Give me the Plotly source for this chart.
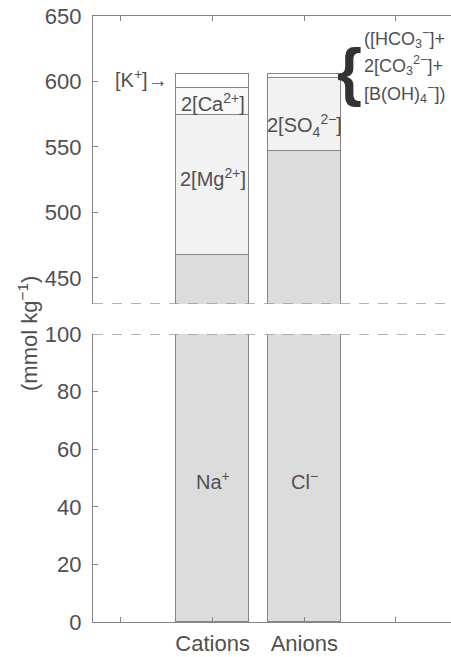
import plotly.graph_objects as go

# ---------------- data ----------------
categories = ["Cations", "Anions"]
category_pos = [2, 3]
cation_names = ["Na<sup>+</sup>", "2[Mg<sup>2+</sup>]", "2[Ca<sup>2+</sup>]", "[K<sup>+</sup>]"]
cation_values = [467.5, 107.0, 20.8, 10.2]
anion_names = ["Cl<sup>−</sup>", "2[SO<sub>4</sub><sup>2−</sup>]", "carb+borate"]
anion_values = [547.0, 56.0, 2.4]
lower_ticks = [0, 20, 40, 60, 80, 100]
upper_ticks = [450, 500, 550, 600, 650]
lower_range = [0, 100]
upper_range = [430, 650]
x_ticks = [1, 2, 3, 4]
x_ticktext = ["", "Cations", "Anions", ""]

# ---------------- styles ----------------
W, H = 451, 657
FONT = "Liberation Sans, Arial, sans-serif"
TXT = "#505050"
LINE = "#858585"
cation_colors = ["#dcdcdc", "#f2f2f2", "#f8f8f8", "#ffffff"]
anion_colors = ["#dcdcdc", "#f2f2f2", "#fbfbfb"]


def fx(p):
    return p / W


def fy(p):
    return 1 - p / H


fig = go.Figure()
for xa, ya in (("x", "y"), ("x2", "y2")):
    for name, val, col in zip(cation_names, cation_values, cation_colors):
        fig.add_trace(go.Bar(x=[category_pos[0]], y=[val], name=name, xaxis=xa, yaxis=ya,
                             width=0.8, marker=dict(color=col, line=dict(color=LINE, width=1.4)),
                             showlegend=False, hoverinfo="skip"))
    for name, val, col in zip(anion_names, anion_values, anion_colors):
        fig.add_trace(go.Bar(x=[category_pos[1]], y=[val], name=name, xaxis=xa, yaxis=ya,
                             width=0.8, marker=dict(color=col, line=dict(color=LINE, width=1.4)),
                             showlegend=False, hoverinfo="skip"))

axis_common = dict(showgrid=False, zeroline=False, showline=True, linecolor=LINE, linewidth=1.4,
                   ticks="inside", ticklen=5, tickcolor=LINE, tickwidth=1.2,
                   tickfont=dict(family=FONT, size=22, color=TXT), automargin=False)

xrange_ = [0.695, 4.6]
fig.update_layout(
    width=W, height=H,
    margin=dict(l=0, r=0, t=0, b=0),
    paper_bgcolor="white", plot_bgcolor="white",
    barmode="stack", bargap=0,
    font=dict(family=FONT, color=TXT),
    xaxis=dict(domain=[fx(93), 1.0], range=xrange_, anchor="y", tickmode="array",
               tickvals=x_ticks, ticktext=x_ticktext, ticklabelstandoff=1, **axis_common),
    xaxis2=dict(domain=[fx(93), 1.0], range=xrange_, anchor="y2", side="top", tickmode="array",
                tickvals=x_ticks, showticklabels=False, **axis_common),
    yaxis=dict(domain=[fy(622), fy(334)], range=lower_range, anchor="x", tickmode="array",
               tickvals=lower_ticks, ticklabelstandoff=6, **axis_common),
    yaxis2=dict(domain=[fy(304), fy(16)], range=upper_range, anchor="x2", tickmode="array",
                tickvals=upper_ticks, ticklabelstandoff=6, **axis_common),
)

# broken-axis dashed edges
dash = dict(color="#9a9a9a", width=1.4, dash="10px,9px")
fig.add_shape(type="line", xref="paper", yref="y2", x0=fx(93), x1=1, y0=upper_range[0], y1=upper_range[0], line=dash)
fig.add_shape(type="line", xref="paper", yref="y", x0=fx(93), x1=1, y0=lower_range[1], y1=lower_range[1], line=dash)

lab = dict(family=FONT, size=20, color=TXT)
ann = []
# in-bar labels
ann.append(dict(x=category_pos[0], y=49, xref="x", yref="y", text=cation_names[0], showarrow=False, font=lab))
ann.append(dict(x=category_pos[1], y=49, xref="x", yref="y", text=anion_names[0], showarrow=False, font=lab))
ann.append(dict(x=category_pos[0], y=527, xref="x2", yref="y2", text=cation_names[1], showarrow=False, font=lab))
ann.append(dict(x=category_pos[0], y=584, xref="x2", yref="y2", text=cation_names[2], showarrow=False, font=lab))
ann.append(dict(x=category_pos[1], y=566, xref="x2", yref="y2", text=anion_names[1], showarrow=False, font=lab))
ann.append(dict(x=1.54, y=602, xref="x2", yref="y2", text=cation_names[3] + "→", showarrow=False,
                xanchor="right", yanchor="middle", font=lab))
# carbonate / borate bracket note
ann.append(dict(x=fx(349), y=fy(72), xref="paper", yref="paper", text="<b>{</b>", showarrow=False,
                xanchor="center", yanchor="middle", borderpad=0,
                font=dict(family="Liberation Sans", size=64, color="#333333")))
note = dict(family=FONT, size=18, color=TXT)
for txt, py_ in (("([HCO<sub>3</sub><sup>−</sup>]+", 38),
                 ("2[CO<sub>3</sub><sup>2−</sup>]+", 65),
                 ("[B(OH)<sub>4</sub><sup>−</sup>])", 93)):
    ann.append(dict(x=fx(362), y=fy(py_), xref="paper", yref="paper", text=txt, showarrow=False,
                    xanchor="left", yanchor="middle", font=note))
# y-axis title
ann.append(dict(x=fx(28), y=fy(334), xref="paper", yref="paper", text="(mmol kg<sup>−1</sup>)",
                textangle=-90, showarrow=False, xanchor="center", yanchor="middle",
                font=dict(family=FONT, size=22, color=TXT)))
fig.update_layout(annotations=ann)

fig.write_html("out.html", config={"displayModeBar": False},
               post_script="document.body.style.margin='0';document.body.style.overflow='hidden';")
